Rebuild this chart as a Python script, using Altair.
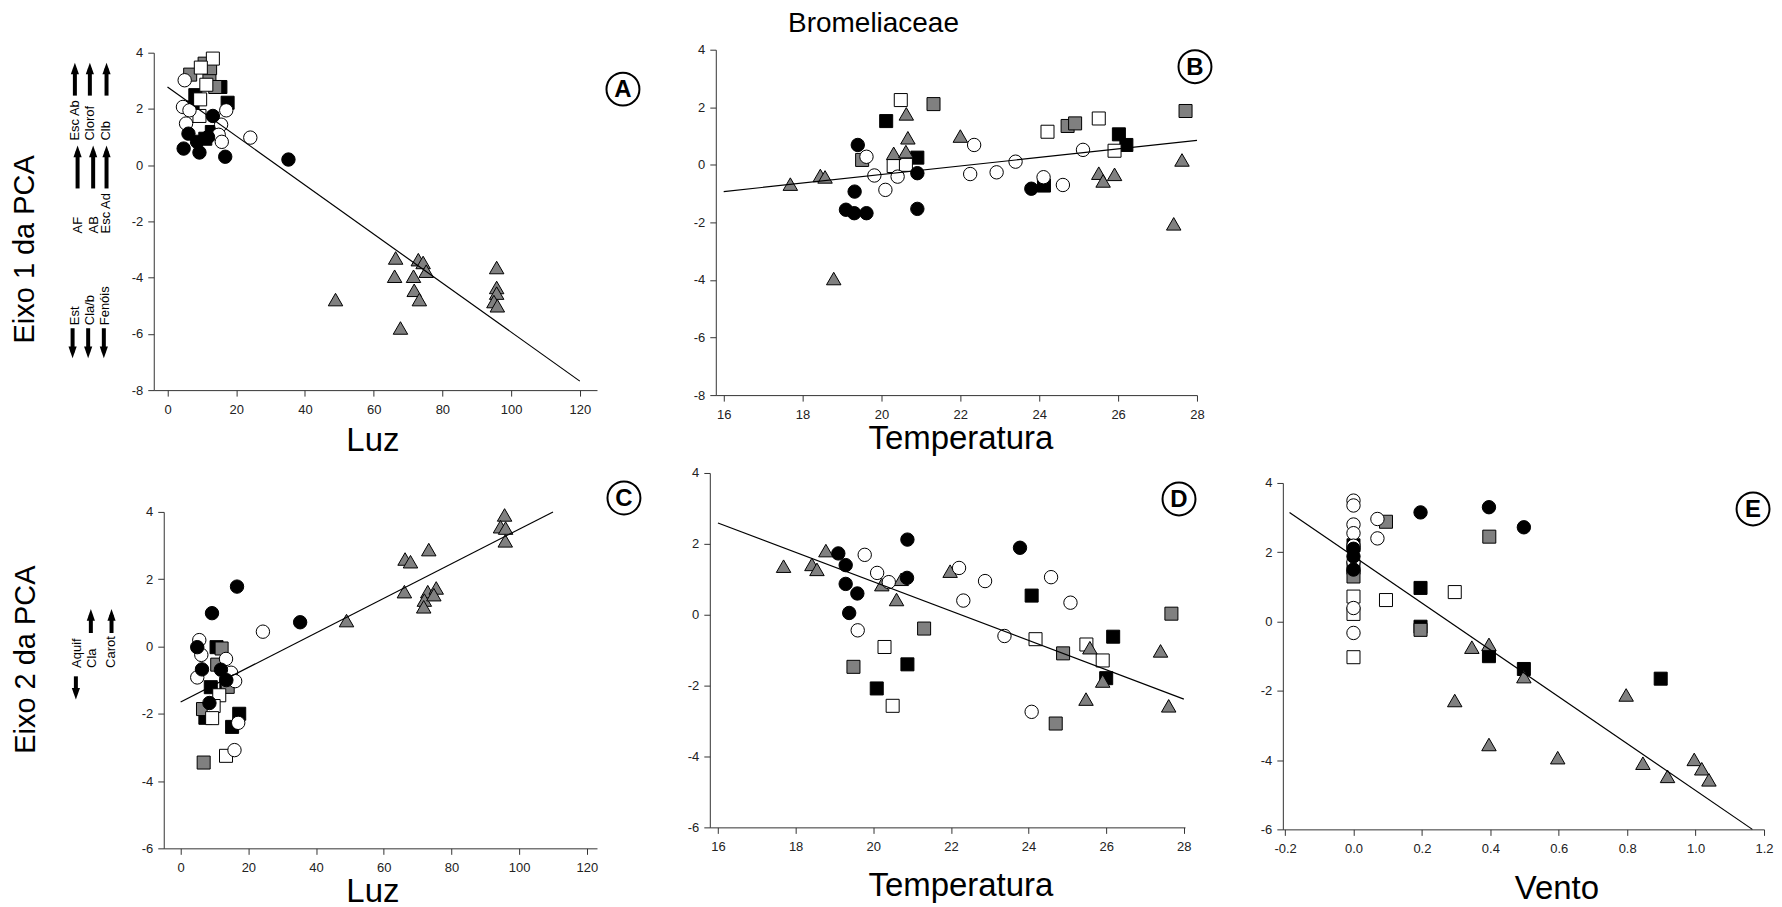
import altair as alt
import pandas as pd

# ------------------------------------------------------------------
# Data
# ------------------------------------------------------------------
# Panel A : Luz vs Eixo 1
A_black_circles = [(4.7, 0.59), (6.1, 1.12), (8.6, 0.83), (9.3, 0.45), (13.2, 1.75),
                   (16.8, 0.30), (35.2, 0.20), (11.8, 1.00)]
A_white_circles = [(5.0, 3.02), (4.5, 2.07), (6.4, 1.95), (17.1, 1.95), (5.4, 1.48),
                   (15.6, 1.44), (14.9, 1.08), (15.8, 0.83), (24.1, 0.98)]
A_black_squares = [(15.4, 2.78), (8.1, 2.49), (17.5, 2.22), (11.0, 0.94), (12.9, 1.18), (7.3, 2.05)]
A_white_squares = [(13.2, 3.79), (9.7, 3.47), (11.3, 2.86), (9.5, 2.34), (9.3, 1.75)]
A_gray_squares = [(10.8, 3.61), (6.6, 3.22), (12.2, 3.20), (13.9, 2.78), (12.4, 3.45)]
A_triangles = [(66.4, -3.30), (66.1, -3.95), (73.0, -3.36), (74.4, -3.46), (75.3, -3.77),
               (71.6, -3.95), (71.8, -4.45), (73.3, -4.78), (48.9, -4.78), (67.8, -5.79),
               (95.8, -3.64), (95.8, -4.35), (95.8, -4.55), (95.0, -4.85), (96.0, -5.00)]
A_line_x = [0, 120]
A_line_y = [2.78, -7.68]

# Panel B : Temperatura vs Eixo 1
B_black_circles = [(19.40, 0.69), (19.32, -0.93), (19.10, -1.56), (19.31, -1.68), (19.62, -1.68),
                   (20.91, -0.29), (20.91, -1.53), (23.80, -0.83)]
B_white_circles = [(19.62, 0.28), (19.82, -0.37), (20.10, -0.87), (20.41, -0.41), (22.35, 0.69),
                   (22.25, -0.32), (22.92, -0.26), (23.40, 0.11), (24.11, -0.43), (24.60, -0.70),
                   (25.11, 0.52)]
B_black_squares = [(20.12, 1.52), (20.91, 0.25), (26.02, 1.06), (26.21, 0.69), (24.12, -0.72)]
B_white_squares = [(20.49, 2.25), (24.21, 1.15), (25.51, 1.61), (25.91, 0.49), (20.31, -0.04), (20.62, 0.00)]
B_gray_squares = [(21.32, 2.11), (19.51, 0.17), (24.72, 1.35), (24.91, 1.44), (27.71, 1.87)]
B_triangles = [(17.69, -0.67), (18.45, -0.37), (18.57, -0.42), (18.79, -3.95), (20.63, 1.77),
               (20.67, 0.94), (20.31, 0.40), (20.62, 0.46), (22.00, 1.00), (25.51, -0.29),
               (25.62, -0.56), (25.91, -0.33), (27.41, -2.05), (27.62, 0.17)]
B_line_x = [16, 28]
B_line_y = [-0.93, 0.85]

# Panel C : Luz vs Eixo 2
C_black_circles = [(16.65, 1.78), (9.26, 0.99), (35.3, 0.72), (4.9, -0.02), (6.3, -0.68),
                   (13.5, -1.00), (8.5, -1.68), (11.9, -0.69)]
C_white_circles = [(24.3, 0.44), (5.5, 0.19), (6.1, -0.25), (13.4, -0.37), (4.9, -0.92),
                   (14.9, -0.78), (16.1, -1.03), (17.0, -2.27), (15.9, -3.08)]
C_black_squares = [(10.6, -0.02), (8.9, -1.21), (17.3, -2.00), (15.2, -2.39), (7.3, -2.12), (13.5, -1.10)]
C_white_squares = [(11.4, -1.45), (9.75, -1.77), (9.3, -2.13), (13.4, -3.25)]
C_gray_squares = [(12.1, -0.06), (10.8, -0.54), (6.6, -1.86), (6.8, -3.45), (13.9, -1.20)]
C_triangles = [(95.7, 3.91), (94.5, 3.56), (96.0, 3.52), (95.9, 3.14), (73.3, 2.88), (66.3, 2.60),
               (67.9, 2.52), (66.1, 1.63), (73.0, 1.63), (75.5, 1.74), (72.0, 1.38), (71.8, 1.18),
               (74.8, 1.54), (49.0, 0.77)]
C_line_x = [0, 110]
C_line_y = [-1.65, 4.00]

# Panel D : Temperatura vs Eixo 2
D_black_circles = [(20.88, 2.12), (23.78, 1.89), (19.10, 1.73), (19.29, 1.40), (19.29, 0.87),
                   (19.59, 0.60), (19.38, 0.05), (20.87, 1.04)]
D_white_circles = [(19.78, 1.69), (20.10, 1.18), (20.40, 0.92), (22.21, 1.32), (22.32, 0.40),
                   (22.88, 0.95), (24.58, 1.06), (25.08, 0.34), (23.38, -0.60), (19.60, -0.44),
                   (24.08, -2.74)]
D_black_squares = [(24.08, 0.54), (26.18, -0.62), (20.88, -1.40), (20.09, -2.08), (26.00, -1.79)]
D_white_squares = [(20.29, -0.91), (20.50, -2.57), (24.18, -0.69), (25.49, -0.84), (25.91, -1.29)]
D_gray_squares = [(21.31, -0.39), (19.49, -1.47), (24.89, -1.09), (24.70, -3.07), (27.68, 0.03)]
D_triangles = [(17.69, 1.37), (18.42, 1.42), (18.55, 1.28), (18.78, 1.81), (20.22, 0.85),
               (20.72, 1.00), (20.60, 0.43), (21.98, 1.23), (25.58, -0.93), (25.48, -2.38),
               (25.91, -1.87), (27.40, -1.02), (27.61, -2.57)]
D_line_x = [16, 28]
D_line_y = [2.59, -2.38]

# Panel E : Vento vs Eixo 2
E_black_circles = [(0.0, 2.10), (0.0, 1.88), (0.0, 1.50), (0.196, 3.15), (0.396, 3.30), (0.498, 2.72)]
E_white_circles = [(0.0, 3.49), (0.0, 3.35), (0.0, 2.80), (0.0, 2.55), (0.0, 2.19), (0.0, 1.72),
                   (0.0, 0.39), (0.0, -0.33), (0.070, 2.96), (0.070, 2.40)]
E_black_squares = [(0.0, 2.20), (0.0, 1.55), (0.196, 0.97), (0.396, -1.00), (0.498, -1.37),
                   (0.898, -1.65), (0.196, -0.15)]
E_white_squares = [(0.0, 0.72), (0.0, 0.22), (0.0, -1.03), (0.095, 0.62), (0.296, 0.85)]
E_gray_squares = [(0.0, 1.30), (0.095, 2.88), (0.397, 2.45), (0.196, -0.24)]
E_triangles = [(0.346, -0.74), (0.396, -0.66), (0.498, -1.59), (0.296, -2.28), (0.797, -2.12),
               (0.396, -3.55), (0.597, -3.93), (0.846, -4.09), (0.918, -4.47), (0.996, -3.98),
               (1.018, -4.25), (1.039, -4.57)]
E_line_x = [-0.187, 1.166]
E_line_y = [3.15, -6.00]

# tick labels
LUZ_TICKS = [0, 20, 40, 60, 80, 100, 120]
TEMP_TICKS = [16, 18, 20, 22, 24, 26, 28]
VENTO_TICKS = [-0.2, 0.0, 0.2, 0.4, 0.6, 0.8, 1.0, 1.2]
Y1_TICKS = [-8, -6, -4, -2, 0, 2, 4]
Y2_TICKS = [-6, -4, -2, 0, 2, 4]

# side annotations (loadings)
SIDE1_LABELS = ["Esc Ab", "Clorof", "Clb", "AF", "AB", "Esc Ad", "Est", "Cla/b", "Fenóis"]
SIDE2_LABELS = ["Aquif", "Cla", "Carot"]

# ------------------------------------------------------------------
FONT = "Liberation Sans"
GRAY = "#808080"
MINUS = "replace(datum.label, '\u2212', '-')"

STYLES = {
    "black_squares": dict(shape="square", fill="black", size=170),
    "gray_squares": dict(shape="square", fill=GRAY, size=170),
    "white_squares": dict(shape="square", fill="white", size=170),
    "triangles": dict(shape="triangle-up", fill=GRAY, size=210),
    "white_circles": dict(shape="circle", fill="white", size=180),
    "black_circles": dict(shape="circle", fill="black", size=180),
}
ORDER = ["black_squares", "gray_squares", "white_squares", "triangles", "white_circles", "black_circles"]


def groups(bc, wc, bs, ws, gs, tr):
    return {"black_circles": bc, "white_circles": wc, "black_squares": bs,
            "white_squares": ws, "gray_squares": gs, "triangles": tr}


def anchor(px, py):
    """invisible 1px point that fixes the extent of a view for the concat layout"""
    return alt.Chart(pd.DataFrame({"a": [0]})).mark_point(
        filled=True, size=1, opacity=0, strokeWidth=0).encode(x=alt.value(px), y=alt.value(py))


def spacer(w, h):
    return anchor(0.5, 0.5).properties(width=w, height=h)


def make_panel(p):
    xs = alt.Scale(domain=p["xdom"], nice=False, zero=False)
    ys = alt.Scale(domain=p["ydom"], nice=False, zero=False)
    xkw = dict(values=p["xticks"], title=p["xtitle"], titleX=p["tx"], titleY=p["ty"],
               titleBaseline="alphabetic", labelExpr=MINUS)
    if p.get("fmt"):
        xkw["format"] = p["fmt"]
    xenc = alt.X("x:Q", scale=xs, axis=alt.Axis(**xkw))
    yenc = alt.Y("y:Q", scale=ys, axis=alt.Axis(values=p["yticks"], title=None, labelExpr=MINUS))
    layers = []
    for g in ORDER:
        st = STYLES[g]
        df = pd.DataFrame(p["groups"][g], columns=["x", "y"])
        layers.append(
            alt.Chart(df).mark_point(shape=st["shape"], filled=True, fill=st["fill"], stroke="black",
                                     strokeWidth=1, size=st["size"], opacity=1, fillOpacity=1,
                                     strokeOpacity=1).encode(x=xenc, y=yenc))
    ldf = pd.DataFrame({"x": p["line"][0], "y": p["line"][1]})
    layers.append(alt.Chart(ldf).mark_line(color="black", strokeWidth=1.2).encode(x=xenc, y=yenc))
    tdf = pd.DataFrame({"t": [p["letter"]]})
    layers.append(alt.Chart(tdf).mark_point(shape="circle", size=1089, filled=False, stroke="black",
                                            strokeWidth=2, opacity=1)
                  .encode(x=alt.value(p["lx"]), y=alt.value(p["ly"])))
    layers.append(alt.Chart(tdf).mark_text(font=FONT, fontSize=24, fontWeight="bold", align="center",
                                           baseline="middle", color="black")
                  .encode(x=alt.value(p["lx"]), y=alt.value(p["ly"] + 1), text="t:N"))
    # layout anchors (left/top extent, optional right extent)
    layers.append(anchor(-p["L"], -p["T"]))
    if p.get("R") is not None:
        layers.append(anchor(p["w"] + p["R"], -p["T"]))
    panel = alt.layer(*layers).properties(width=p["w"], height=p["h"])
    # vertical offset inside its row
    return alt.vconcat(spacer(1, p["dy"]), panel, spacing=0)


HEAD = 5.85  # half length of the arrow head (px)
UP_PATH = "M0,-1L0.7,1L-0.7,1Z"
DOWN_PATH = "M0,1L0.7,-1L-0.7,-1Z"


def canvas(w, h, small=None, big=None, header=None, arrows=None):
    xs = alt.Scale(domain=[0, w], nice=False, zero=False)
    ys = alt.Scale(domain=[0, h], nice=False, zero=False, reverse=True)
    X = alt.X("x:Q", scale=xs, axis=None)
    Y = alt.Y("y:Q", scale=ys, axis=None)
    layers = []
    if small is not None:
        layers.append(alt.Chart(pd.DataFrame(small, columns=["t", "x", "y"])).mark_text(
            font=FONT, fontSize=13, angle=270, align="left", baseline="middle", color="black")
            .encode(x=X, y=Y, text="t:N"))
    if big is not None:
        layers.append(alt.Chart(pd.DataFrame(big, columns=["t", "x", "y"])).mark_text(
            font=FONT, fontSize=29, angle=270, align="center", baseline="middle", color="black")
            .encode(x=X, y=Y, text="t:N"))
    if header is not None:
        layers.append(alt.Chart(pd.DataFrame(header, columns=["t", "x", "y"])).mark_text(
            font=FONT, fontSize=28, align="center", baseline="middle", color="black")
            .encode(x=X, y=Y, text="t:N"))
    if arrows is not None:
        rows = []
        for (x, tip, tail) in arrows:
            d = 1 if tail > tip else -1
            rows.append(dict(x=x, y=tip + d * HEAD, tail=tail, up=(d == 1)))
        adf = pd.DataFrame(rows)
        layers.append(alt.Chart(adf).mark_rule(color="black", strokeWidth=4)
                      .encode(x=X, y=Y, y2="tail:Q"))
        for up, path in [(True, UP_PATH), (False, DOWN_PATH)]:
            sub = adf[adf["up"] == up]
            if len(sub):
                layers.append(alt.Chart(sub).mark_point(shape=path, filled=True, fill="black",
                                                        strokeWidth=0, size=137, opacity=1)
                              .encode(x=X, y=Y))
    return alt.layer(*layers).properties(width=w, height=h)


P = {
    "A": dict(groups=groups(A_black_circles, A_white_circles, A_black_squares, A_white_squares,
                            A_gray_squares, A_triangles),
              line=(A_line_x, A_line_y), xdom=[-4, 125], ydom=[-8, 4], xticks=LUZ_TICKS,
              yticks=Y1_TICKS, w=444, h=338, xtitle="Luz", tx=219, ty=60.5, letter="A",
              lx=470, ly=36.5, L=30, T=8, R=87, dy=4.5),
    "B": dict(groups=groups(B_black_circles, B_white_circles, B_black_squares, B_white_squares,
                            B_gray_squares, B_triangles),
              line=(B_line_x, B_line_y), xdom=[15.8, 28], ydom=[-8, 4], xticks=TEMP_TICKS,
              yticks=Y1_TICKS, w=482, h=346, xtitle="Temperatura", tx=245, ty=53, letter="B",
              lx=480, ly=17, L=30, T=8, dy=1.5),
    "C": dict(groups=groups(C_black_circles, C_white_circles, C_black_squares, C_white_squares,
                            C_gray_squares, C_triangles),
              line=(C_line_x, C_line_y), xdom=[-5, 123], ydom=[-6, 4], xticks=LUZ_TICKS,
              yticks=Y2_TICKS, w=434, h=337, xtitle="Luz", tx=209, ty=53.7, letter="C",
              lx=461, ly=-14, L=30, T=35, R=81, dy=13.5),
    "D": dict(groups=groups(D_black_circles, D_white_circles, D_black_squares, D_white_squares,
                            D_gray_squares, D_triangles),
              line=(D_line_x, D_line_y), xdom=[15.79, 28.03], ydom=[-6, 4], xticks=TEMP_TICKS,
              yticks=Y2_TICKS, w=476, h=355, xtitle="Temperatura", tx=251, ty=68.3, letter="D",
              lx=470, ly=26, L=30, T=8, R=66, dy=1.5),
    "E": dict(groups=groups(E_black_circles, E_white_circles, E_black_squares, E_white_squares,
                            E_gray_squares, E_triangles),
              line=(E_line_x, E_line_y), xdom=[-0.2065, 1.2], ydom=[-6, 4], xticks=VENTO_TICKS,
              yticks=Y2_TICKS, w=482, h=347, xtitle="Vento", tx=274, ty=69.3, letter="E",
              lx=471, ly=26, fmt=".1f", L=30, T=8, dy=11.5),
}

panels = {k: make_panel(v) for k, v in P.items()}

# side annotations (positions inside each side canvas)
s1_cols = [67.5, 82.5, 98, 70, 85.7, 98.3, 67, 82, 97]
s1_base = [102, 102, 102, 195, 195, 195, 287, 287, 287]
side1 = canvas(114.5, 424,
               small=[(t, x, y) for t, x, y in zip(SIDE1_LABELS, s1_cols, s1_base)],
               big=[("Eixo 1 da PCA", 17, 211)],
               arrows=[(67, 24, 57), (82, 24, 57), (98.7, 24, 57),
                       (69.7, 107, 150), (85.3, 107, 150), (98.7, 107, 150),
                       (64.7, 320, 290), (80.3, 320, 290), (96, 320, 290)])
side2 = canvas(124.5, 400,
               small=[(t, x, 206.3) for t, x in zip(SIDE2_LABELS, [68.7, 84.3, 103.3])],
               big=[("Eixo 2 da PCA", 18, 198)],
               arrows=[(68, 238, 214.7), (83, 147.3, 171.3), (103.7, 147.3, 171.3)])
header = canvas(1764, 30, header=[("Bromeliaceae", 867, 15)])

row1 = alt.hconcat(side1, panels["A"], panels["B"], spacing=0)
row2 = alt.hconcat(side2, panels["C"], panels["D"], panels["E"], spacing=0)

chart = alt.vconcat(header, row1, row2, spacing=0).properties(
    padding=0).configure_view(stroke=None).configure_axis(
    grid=False, domainColor="#333333", tickColor="#333333", domainWidth=1, tickWidth=1, tickSize=6,
    labelFont=FONT, labelFontSize=13, labelColor="#222222", labelFlush=False,
    titleFont=FONT, titleFontSize=33, titleFontWeight="normal", titleColor="black"
).configure_axisX(labelPadding=7).configure_axisY(labelPadding=5)

chart.save("out.html", embed_options={"renderer": "svg", "actions": False})
